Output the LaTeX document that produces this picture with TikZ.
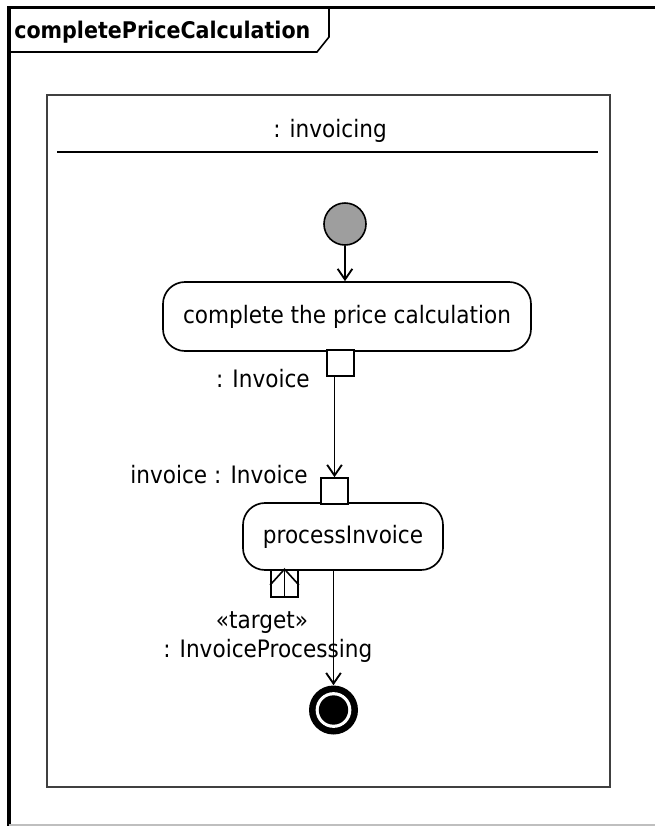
\documentclass[tikz,border=0pt]{standalone}
\usepackage{fontspec}
\setmainfont{DejaVu Sans}[FakeStretch=0.9]
\usetikzlibrary{arrows.meta,calc}
\begin{document}
\begin{tikzpicture}[x=0.75pt,y=-0.75pt,
  font=\fontsize{18pt}{21pt}\selectfont,
  txt/.style={inner sep=0pt},
  action/.style={draw=black,line width=1.25pt,rounded corners=16.5pt,fill=white,inner sep=0pt},
  pinbox/.style={draw=black,line width=1.25pt,fill=white,rectangle,inner sep=0pt,minimum width=20.25pt,minimum height=19.5pt},
  flow/.style={draw=black,line width=1.4pt,-{Straight Barb[length=8pt,width=11pt,line width=1.4pt]}},
]
\useasboundingbox (0,0) rectangle (655,826);
\fill[white] (0,0) rectangle (655,826);

% outer frame
\draw[line width=2.4pt,black] (9,826) -- (9,7.5) -- (655,7.5);
\draw[line width=1.2pt,black] (9,7.5) -- (329,7.5) -- (329,37) -- (317,52) -- (9,52);
\draw[line width=1.1pt,black!25] (9,825) -- (655,825);
\node[txt,anchor=base west,font=\fontsize{17.2pt}{20pt}\selectfont\bfseries] (title) at (14,38) {completePriceCalculation};

% inner frame
\node[draw=black!75,line width=1.5pt,rectangle,minimum width=422.25pt,minimum height=519pt,inner sep=0pt] (part) at (328.5,440.5) {};
\node[txt,anchor=base] (partname) at (330,137) {: invoicing};
\draw[line width=1.2pt,black] (57,152) -- (598,152);

% initial node
\node[circle,draw=black,line width=1.2pt,fill=black!38,minimum size=31.5pt,inner sep=0pt] (init) at (345,224) {};

% action 1
\node[action,minimum width=276pt,minimum height=51.75pt] (act1) at (347,316.5) {complete the price calculation};
\node[pinbox] (pout) at (340.5,363) {};
\node[txt,anchor=base east] (poutlbl) at (310,387) {: Invoice};

% action 2
\node[action,minimum width=150pt,minimum height=50.25pt] (act2) at (343,536.5) {processInvoice};
\node[pinbox] (pin) at (334.5,491) {};
\node[txt,anchor=base east] (pinlbl) at (308,483) {invoice : Invoice};
\node[pinbox,minimum height=20.25pt] (tpin) at (284.5,583.5) {};
\draw[line width=1.2pt] (tpin.north) -- (tpin.south);
\draw[line width=1.2pt] ($(tpin.north west)!0.55!(tpin.south west)$) -- (tpin.north) -- ($(tpin.north east)!0.55!(tpin.south east)$);
\node[txt,anchor=base] (tlbl1) at (262,628) {«target»};
\node[txt,anchor=base west] (tlbl2) at (163,657) {: InvoiceProcessing};

% final node
\node[circle,fill=black,minimum size=36.75pt,inner sep=0pt] (final) at (333.5,710) {};
\fill[white] (final.center) circle (13.4pt);
\fill[black] (final.center) circle (11pt);

% flows
\draw[flow] (init.south) -- (init.south |- act1.north);
\draw[flow] (pin.north |- pout.south) -- (pin.north);
\draw[flow] (final.north |- act2.south) -- (final.north);
\end{tikzpicture}
\end{document}
